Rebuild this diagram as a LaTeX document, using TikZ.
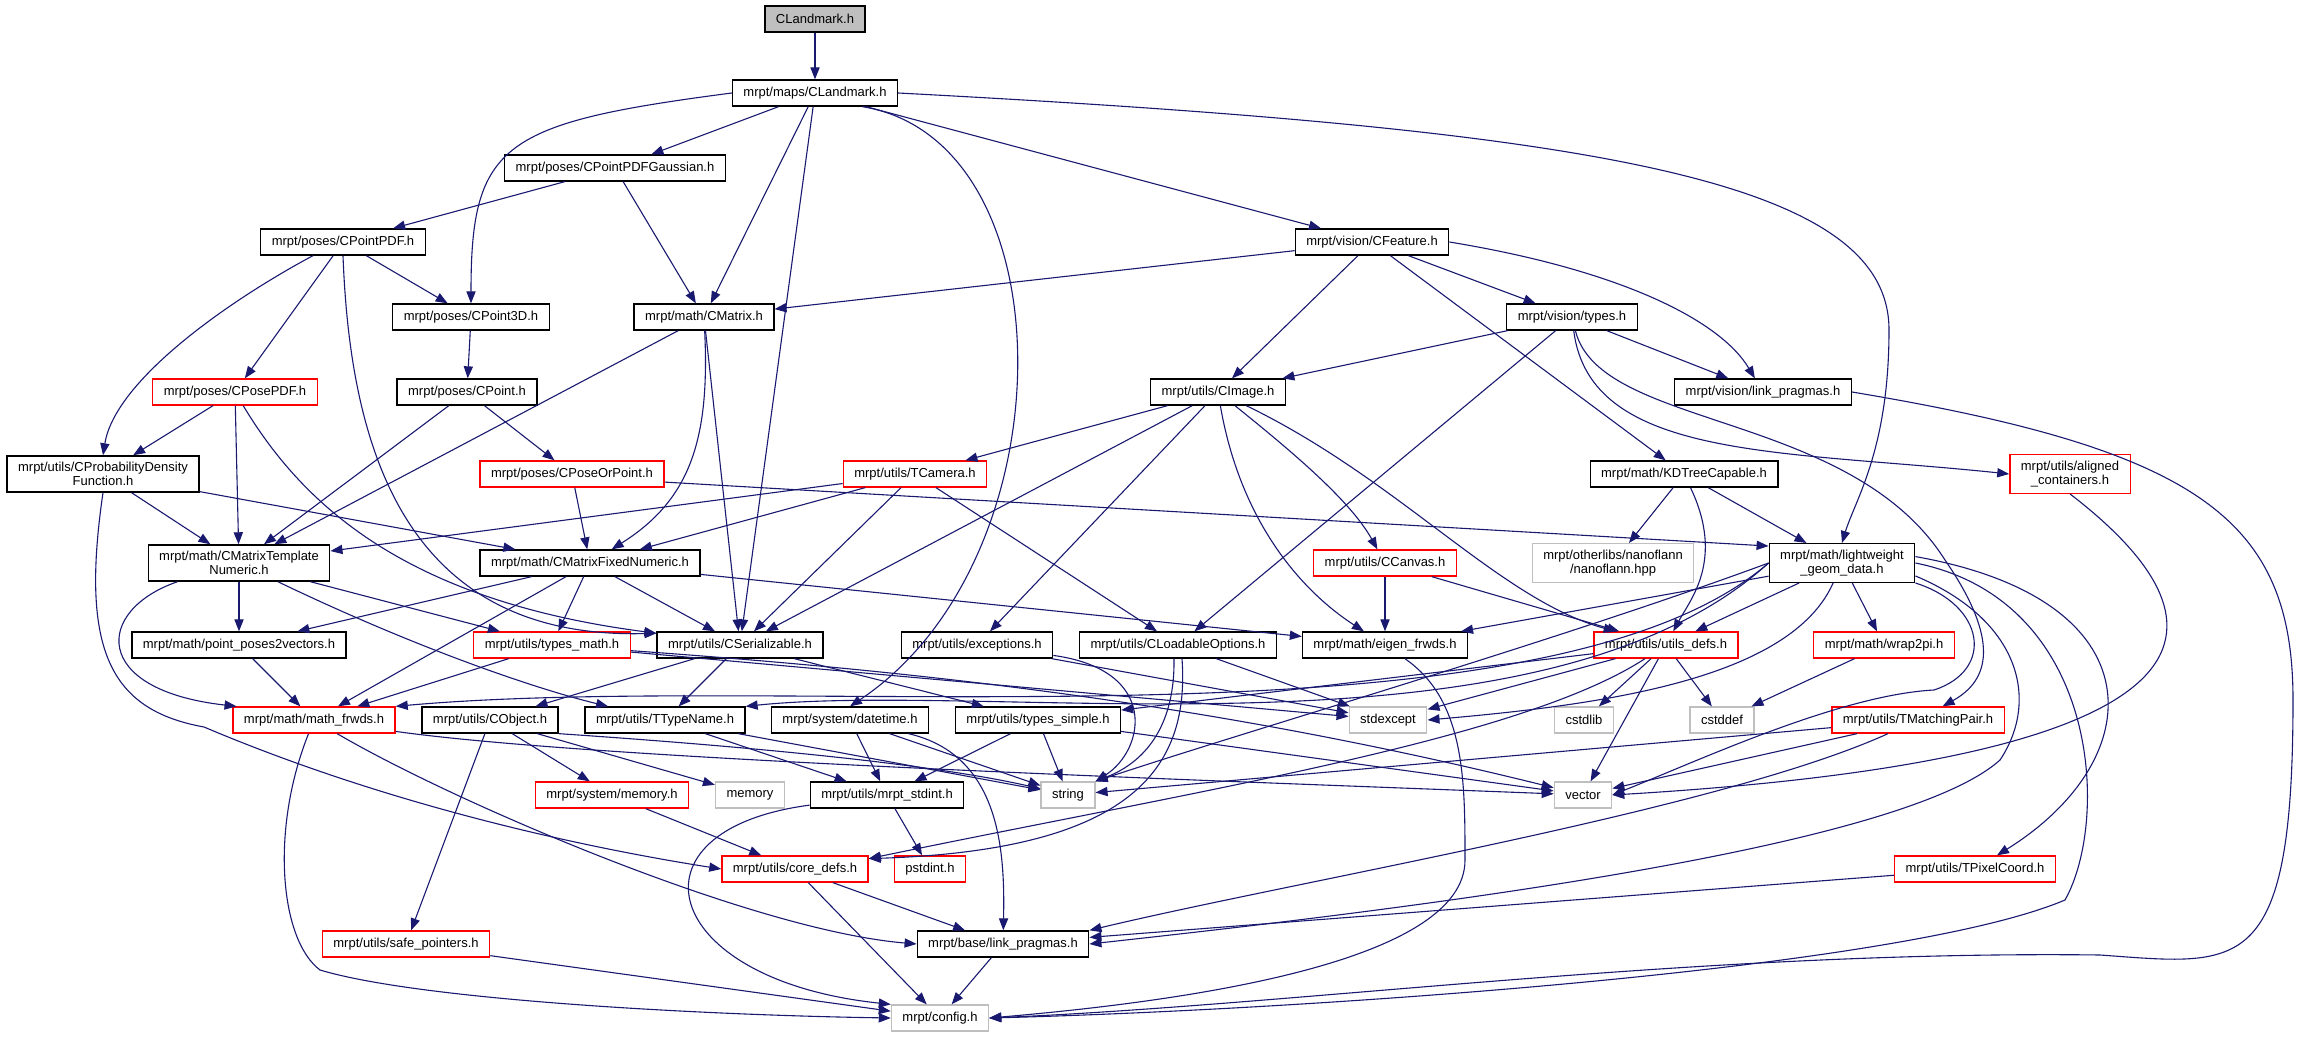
\documentclass[tikz,border=0pt]{standalone}
\usepackage{fontspec}
\setmainfont{Liberation Sans}
\usetikzlibrary{arrows.meta}
\definecolor{incblue}{HTML}{191970}
\definecolor{grey75}{HTML}{BFBFBF}
\tikzset{
  hdr/.style={draw=black,line width=0.65pt,fill=white,inner xsep=5.5pt,inner ysep=3pt,minimum height=13pt,align=center,font=\fontsize{6.5pt}{7.3pt}\selectfont},
  hdrred/.style={hdr,draw=red},
  hdrsys/.style={hdr,draw=grey75},
  inc/.style={draw=incblue,line width=0.55pt,-{Triangle[length=6pt,width=4.6pt]}}
}
\begin{document}
\begin{tikzpicture}[x=0.5pt,y=-0.5pt]
    \useasboundingbox (0,0) rectangle (2303,1037);

    \node[hdr,fill=grey75] (root) at (815,19){CLandmark.h};
    \node[hdr] (maps) at (815,93){mrpt/maps/CLandmark.h};
    \node[hdr] (gauss) at (615,168){mrpt/poses/CPointPDFGaussian.h};
    \node[hdr] (pdf) at (343,242){mrpt/poses/CPointPDF.h};
    \node[hdr] (feature) at (1372,242){mrpt/vision/CFeature.h};
    \node[hdr] (p3d) at (471,317){mrpt/poses/CPoint3D.h};
    \node[hdr] (cmatrix) at (704,317){mrpt/math/CMatrix.h};
    \node[hdr] (vtypes) at (1572,317){mrpt/vision/types.h};
    \node[hdrred] (posepdf) at (235,392){mrpt/poses/CPosePDF.h};
    \node[hdr] (point) at (467,392){mrpt/poses/CPoint.h};
    \node[hdr] (cimage) at (1218,392){mrpt/utils/CImage.h};
    \node[hdr] (vlink) at (1763,392){mrpt/vision/link\_pragmas.h};
    \node[hdr] (probdens) at (103,474){mrpt/utils/CProbabilityDensity\\Function.h};
    \node[hdrred] (poseorpoint) at (572,474){mrpt/poses/CPoseOrPoint.h};
    \node[hdrred] (tcamera) at (915,474){mrpt/utils/TCamera.h};
    \node[hdr] (kdtree) at (1684,474){mrpt/math/KDTreeCapable.h};
    \node[hdrred] (aligned) at (2070,474){mrpt/utils/aligned\\\_containers.h};
    \node[hdr] (tplnum) at (239,563){mrpt/math/CMatrixTemplate\\Numeric.h};
    \node[hdr] (fixnum) at (590,563){mrpt/math/CMatrixFixedNumeric.h};
    \node[hdrred] (ccanvas) at (1385,563){mrpt/utils/CCanvas.h};
    \node[hdrsys] (nanoflann) at (1613,563){mrpt/otherlibs/nanoflann\\/nanoflann.hpp};
    \node[hdr] (lwgeom) at (1842,563){mrpt/math/lightweight\\\_geom\_data.h};
    \node[hdr] (pp2v) at (239,645){mrpt/math/point\_poses2vectors.h};
    \node[hdrred] (typesmath) at (552,645){mrpt/utils/types\_math.h};
    \node[hdr] (cser) at (740,645){mrpt/utils/CSerializable.h};
    \node[hdr] (exceptions) at (977,645){mrpt/utils/exceptions.h};
    \node[hdr] (cloadable) at (1178,645){mrpt/utils/CLoadableOptions.h};
    \node[hdr] (eigen) at (1385,645){mrpt/math/eigen\_frwds.h};
    \node[hdrred] (utilsdefs) at (1666,645){mrpt/utils/utils\_defs.h};
    \node[hdrred] (wrap2pi) at (1884,645){mrpt/math/wrap2pi.h};
    \node[hdrred] (mathfrwds) at (314,720){mrpt/math/math\_frwds.h};
    \node[hdr] (cobject) at (490,720){mrpt/utils/CObject.h};
    \node[hdr] (ttypename) at (665,720){mrpt/utils/TTypeName.h};
    \node[hdr] (datetime) at (850,720){mrpt/system/datetime.h};
    \node[hdr] (typessimple) at (1038,720){mrpt/utils/types\_simple.h};
    \node[hdrsys] (stdexcept) at (1388,720){stdexcept};
    \node[hdrsys] (cstdlib) at (1584,720){cstdlib};
    \node[hdrsys] (cstddef) at (1722,720){cstddef};
    \node[hdrred] (tmatching) at (1918,720){mrpt/utils/TMatchingPair.h};
    \node[hdrred] (sysmemory) at (612,795){mrpt/system/memory.h};
    \node[hdrsys] (memory) at (750,795){memory};
    \node[hdr] (stdint) at (887,795){mrpt/utils/mrpt\_stdint.h};
    \node[hdrsys] (string) at (1068,795){string};
    \node[hdrsys] (vector) at (1583,795){vector};
    \node[hdrred] (coredefs) at (795,869){mrpt/utils/core\_defs.h};
    \node[hdrred] (pstdint) at (930,869){pstdint.h};
    \node[hdrred] (tpixel) at (1975,869){mrpt/utils/TPixelCoord.h};
    \node[hdrred] (safeptr) at (406,944){mrpt/utils/safe\_pointers.h};
    \node[hdr] (baselink) at (1003,944){mrpt/base/link\_pragmas.h};
    \node[hdrsys] (config) at (940,1018){mrpt/config.h};

    \draw[inc] (root) -- (maps);
    \draw[inc] (maps) -- (gauss);
    \draw[inc] (maps.west) .. controls +(-230,30) and +(0,-160) .. (p3d.north);
    \draw[inc] (maps) -- (cmatrix);
    \draw[inc] (maps) -- (cser);
    \draw[inc] ([xshift=-18pt]maps.south east) .. controls (1070,140) and (1070,560) .. (datetime.north);
    \draw[inc] (maps) -- (feature);
    \draw[inc] (maps.east) .. controls (1600,130) and (1889,180) .. (1889,330) .. controls (1889,450) and (1855,500) .. (lwgeom.north);

    \draw[inc] (gauss) -- (pdf);
    \draw[inc] (gauss) -- (cmatrix);
    \draw[inc] (pdf) -- (p3d);
    \draw[inc] (pdf) -- (posepdf);
    \draw[inc] ([xshift=-15pt]pdf.south) .. controls (230,300) and (115,380) .. (probdens.north);
    \draw[inc] (pdf.south) .. controls (350,440) and (400,640) .. (cser.172);
    \draw[inc] (p3d) -- (point);
    \draw[inc] (cmatrix) -- (tplnum);
    \draw[inc] (cmatrix) .. controls (710,440) and (690,500) .. (fixnum);
    \draw[inc] (cmatrix) -- (cser);

    \draw[inc] (feature) -- (cmatrix);
    \draw[inc] (feature) -- (cimage);
    \draw[inc] (feature) -- (kdtree);
    \draw[inc] (feature) -- (vtypes);
    \draw[inc] (feature.east) .. controls (1620,270) and (1720,320) .. (vlink);
    \draw[inc] (vtypes) -- (cimage);
    \draw[inc] (vtypes) -- (vlink);
    \draw[inc] (vtypes) -- (cloadable);
    \draw[inc] (vtypes) .. controls (1590,460) and (1780,450) .. (aligned.west);
    \draw[inc] (vtypes) .. controls (1600,430) and (1850,410) .. (1945,560) .. controls (2000,640) and (1990,680) .. (tmatching);
    \draw[inc] (vlink.east) .. controls (2200,450) and (2293,520) .. (2293,700) .. controls (2293,980) and (2240,965) .. (2100,955) .. controls (1700,950) and (1300,1005) .. (config.east);
    \draw[inc] (aligned.south) .. controls (2260,640) and (2200,760) .. (vector.east);

    \draw[inc] (posepdf) -- (probdens);
    \draw[inc] (posepdf) -- (tplnum);
    \draw[inc] (posepdf) .. controls (300,500) and (400,600) .. (cser.172);
    \draw[inc] (point) -- (tplnum);
    \draw[inc] (point) -- (poseorpoint);
    \draw[inc] (probdens) -- (tplnum);
    \draw[inc] (probdens) -- (fixnum);
    \draw[inc] (probdens.south) .. controls (80,650) and (110,710) .. (204,727) .. controls (400,810) and (600,850) .. (coredefs.west);
    \draw[inc] (poseorpoint) -- (fixnum);
    \draw[inc] (poseorpoint.-5) -- (lwgeom.167);

    \draw[inc] (cimage) -- (tcamera);
    \draw[inc] (cimage) -- (cser);
    \draw[inc] (cimage) -- (exceptions);
    \draw[inc] (cimage) .. controls (1240,520) and (1300,590) .. (eigen);
    \draw[inc] (cimage) .. controls (1290,450) and (1350,500) .. (ccanvas);
    \draw[inc] (cimage) .. controls (1400,480) and (1500,600) .. (utilsdefs);
    \draw[inc] (tcamera) -- (tplnum);
    \draw[inc] (tcamera) -- (fixnum);
    \draw[inc] (tcamera) -- (cser);
    \draw[inc] (tcamera) -- (cloadable);
    \draw[inc] (kdtree) -- (nanoflann);
    \draw[inc] (kdtree) .. controls (1725,560) and (1690,600) .. (utilsdefs);
    \draw[inc] (kdtree) -- (lwgeom);

    \draw[inc] (tplnum) -- (pp2v);
    \draw[inc] (tplnum) -- (typesmath);
    \draw[inc] (tplnum) .. controls (420,650) and (540,690) .. (ttypename);
    \draw[inc] ([xshift=15pt]tplnum.south west) .. controls (95,610) and (90,690) .. (mathfrwds.170);
    \draw[inc] (fixnum) -- (pp2v);
    \draw[inc] (fixnum) -- (mathfrwds);
    \draw[inc] (fixnum) -- (typesmath);
    \draw[inc] (fixnum) -- (cser);
    \draw[inc] (fixnum) -- (eigen);
    \draw[inc] (ccanvas) -- (eigen);
    \draw[inc] (ccanvas) -- (utilsdefs);

    \draw[inc] (lwgeom) -- (utilsdefs);
    \draw[inc] (lwgeom) -- (eigen);
    \draw[inc] (lwgeom.west) .. controls (1540,760) and (800,670) .. (mathfrwds.north east);
    \draw[inc] (lwgeom.west) .. controls (1540,770) and (1000,680) .. (ttypename.north east);
    \draw[inc] (lwgeom.west) .. controls (1560,640) and (1250,730) .. (string.north east);
    \draw[inc] (lwgeom) -- (wrap2pi);
    \draw[inc] (lwgeom) .. controls (1790,680) and (1600,705) .. (stdexcept.east);
    \draw[inc] (lwgeom.south east) .. controls (1985,605) and (1995,670) .. (1934,690) .. controls (1840,695) and (1700,760) .. (vector.east);
    \draw[inc] (lwgeom.-10) .. controls (2020,620) and (2040,700) .. (2000,760) .. controls (1900,850) and (1400,910) .. (baselink.east);
    \draw[inc] (lwgeom.east) .. controls (2100,600) and (2110,820) .. (2065,900) .. controls (1900,970) and (1300,1010) .. (config.east);
    \draw[inc] (lwgeom.5) .. controls (2160,600) and (2150,760) .. ([xshift=11pt]tpixel.north);

    \draw[inc] (pp2v) -- (mathfrwds);
    \draw[inc] (typesmath) -- (mathfrwds);
    \draw[inc] (typesmath) -- (stdexcept);
    \draw[inc] (typesmath) .. controls (900,670) and (1200,700) .. (vector);
    \draw[inc] (cser) -- (cobject);
    \draw[inc] (cser) -- (ttypename);
    \draw[inc] (cser) -- (typessimple);
    \draw[inc] (exceptions) -- (stdexcept);
    \draw[inc] (exceptions) .. controls (1160,670) and (1145,750) .. (string.north east);
    \draw[inc] (cloadable) -- (stdexcept);
    \draw[inc] ([xshift=-2pt]cloadable.south) .. controls (1175,720) and (1150,760) .. (string.north east);
    \draw[inc] ([xshift=2pt]cloadable.south) .. controls (1190,770) and (1130,850) .. (coredefs.8);
    \draw[inc] (eigen) .. controls (1465,700) and (1465,780) .. (1465,860) .. controls (1465,960) and (1200,1000) .. (config.east);
    \draw[inc] (utilsdefs) -- (cstdlib);
    \draw[inc] (utilsdefs) -- (cstddef);
    \draw[inc] (utilsdefs) -- (vector);
    \draw[inc] (utilsdefs) -- (stdexcept);
    \draw[inc] (utilsdefs) -- (typessimple);
    \draw[inc] (utilsdefs) .. controls (1520,740) and (1200,790) .. (coredefs.8);
    \draw[inc] (wrap2pi) -- (cstddef);

    \draw[inc] (mathfrwds) .. controls (600,760) and (1200,780) .. (vector);
    \draw[inc] (mathfrwds) .. controls (450,800) and (750,930) .. (baselink.west);
    \draw[inc] (mathfrwds) .. controls (270,830) and (280,940) .. (320,970) .. controls (420,1000) and (700,1015) .. (config.west);
    \draw[inc] (cobject) -- (sysmemory);
    \draw[inc] (cobject) -- (memory);
    \draw[inc] (cobject) -- (safeptr);
    \draw[inc] (cobject.south east) .. controls (800,750) and (950,768) .. (string);
    \draw[inc] (ttypename) -- (stdint);
    \draw[inc] (ttypename) -- (string);
    \draw[inc] (datetime) -- (stdint);
    \draw[inc] (datetime) -- (string);
    \draw[inc] (datetime) .. controls (1000,755) and (1005,850) .. (baselink);
    \draw[inc] (typessimple) -- (stdint);
    \draw[inc] (typessimple) -- (string);
    \draw[inc] (typessimple) -- (vector);
    \draw[inc] (tmatching) -- (vector);
    \draw[inc] (tmatching) -- (string);
    \draw[inc] (tmatching) .. controls (1720,810) and (1300,880) .. (baselink.north east);

    \draw[inc] (sysmemory) -- (coredefs);
    \draw[inc] (stdint) -- (pstdint);
    \draw[inc] (stdint) .. controls (620,830) and (660,980) .. (config.north west);
    \draw[inc] (coredefs) -- (baselink);
    \draw[inc] (coredefs) -- (config);
    \draw[inc] (tpixel) -- (baselink);
    \draw[inc] (safeptr) -- (config);
    \draw[inc] (baselink) -- (config);
\end{tikzpicture}
\end{document}
